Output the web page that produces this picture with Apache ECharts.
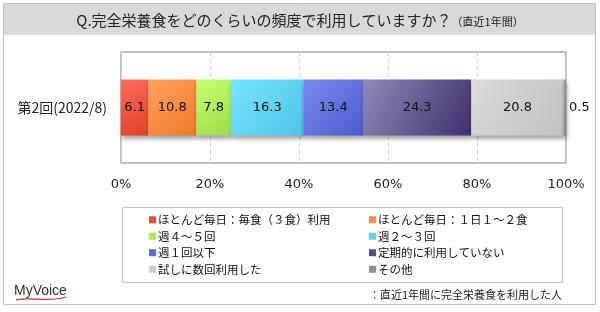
<!DOCTYPE html>
<html>
<head>
<meta charset="utf-8">
<script src="https://cdn.jsdelivr.net/npm/echarts@6/dist/echarts.min.js"></script>
<style>
  html, body { margin: 0; padding: 0; background: #fff; }
  #main { width: 600px; height: 312px; }
</style>
</head>
<body>
<div id="main"></div>
<script>
// データ
var categories = ['第2回(2022/8)'];
var seriesNames = [
  'ほとんど毎日：毎食（３食）利用',
  'ほとんど毎日：１日１～２食',
  '週４～５回',
  '週２～３回',
  '週１回以下',
  '定期的に利用していない',
  '試しに数回利用した',
  'その他'
];
var seriesValues = [6.1, 10.8, 7.8, 16.3, 13.4, 24.3, 20.8, 0.5];
var xTicks = [0, 20, 40, 60, 80, 100];

// 色（グラデーション：明→暗）
var colorFrom = ['#ff6b5e', '#ffa25e', '#c4ff6e', '#76e4ff', '#7a8af2', '#908ab6', '#dadada', '#9a9a9a'];
var colorTo   = ['#e0402a', '#ee7a26', '#9edc4c', '#4ec4e6', '#4a5ccc', '#3e2f6e', '#c2c2c2', '#8a8a8a'];
var legendColor = ['#ee4a3c', '#f78a40', '#aeea5a', '#5ed2f2', '#5a6ed8', '#5c4e8a', '#cccccc', '#909090'];

var myChart = echarts.init(document.getElementById('main'), null, { renderer: 'canvas' });

var series = seriesNames.map(function (name, i) {
  var last = i === seriesNames.length - 1;
  return {
    name: name,
    type: 'bar',
    stack: 'total',
    barWidth: 56,
    data: [seriesValues[i]],
    itemStyle: {
      color: new echarts.graphic.LinearGradient(0, 0, 1, 1, [
        { offset: 0, color: colorFrom[i] },
        { offset: 1, color: colorTo[i] }
      ]),
      shadowColor: 'rgba(0,0,0,0.35)',
      shadowBlur: 4,
      shadowOffsetX: 1,
      shadowOffsetY: 3
    },
    label: {
      show: true,
      position: last ? 'right' : 'inside',
      distance: 3,
      color: '#111',
      fontSize: 13,
      fontFamily: 'DejaVu Sans',
      formatter: function (p) { return p.value.toFixed(1); }
    },
    emphasis: { disabled: true }
  };
});

function legendData(idx) {
  return idx.map(function (i) {
    return { name: seriesNames[i], itemStyle: { color: legendColor[i], shadowBlur: 0, shadowOffsetX: 0, shadowOffsetY: 0 } };
  });
}

var legendCommon = {
  orient: 'vertical',
  top: 209,
  itemGap: 5,
  itemWidth: 7,
  itemHeight: 7,
  icon: 'rect',
  selectedMode: false,
  textStyle: { fontSize: 11.5, color: '#111', fontFamily: 'Noto Sans CJK JP', padding: [0, 0, 0, -3] }
};

var option = {
  animation: false,
  backgroundColor: '#fff',
  title: {
    text: '{a|Q.完全栄養食をどのくらいの頻度で利用していますか？}{b|（直近1年間）}',
    left: 'center',
    top: 8,
    textStyle: {
      fontWeight: 'normal',
      rich: {
        a: { fontSize: 15, color: '#222', fontWeight: 'normal', fontFamily: 'Noto Sans CJK JP' },
        b: { fontSize: 11, color: '#222', fontWeight: 'normal', fontFamily: 'Noto Sans CJK JP', padding: [2, 0, 0, 0] }
      }
    }
  },
  graphic: [
    { type: 'rect', z: -10, shape: { x: 3.5, y: 3.5, width: 592, height: 301 }, style: { fill: '#fff', stroke: '#bfbfbf', lineWidth: 1 } },
    { type: 'rect', z: -9, shape: { x: 4, y: 4, width: 591, height: 31 }, style: { fill: '#d9d9d9' } },
    { type: 'rect', shape: { x: 122.5, y: 207.5, width: 440, height: 75 }, style: { fill: 'none', stroke: '#bfbfbf', lineWidth: 1 } },
    { type: 'text', x: 562, y: 289, style: { text: '：直近1年間に完全栄養食を利用した人', fontSize: 11, fill: '#222', fontFamily: 'Noto Sans CJK JP', align: 'right' } },
    { type: 'text', x: 14, y: 284, style: { text: 'MyVoice', fontSize: 14, fill: '#333', fontFamily: 'Liberation Sans Narrow, Liberation Sans', fontWeight: 'normal' } },
    { type: 'bezierCurve', shape: { x1: 16, y1: 300, cpx1: 30, cpy1: 296, cpx2: 48, cpy2: 303, x2: 66, y2: 297 }, style: { stroke: '#c0392b', lineWidth: 1.2, fill: 'none' } }
  ],
  legend: [
    Object.assign({ left: 144, data: legendData([0, 2, 4, 6]) }, legendCommon),
    Object.assign({ left: 364, data: legendData([1, 3, 5, 7]) }, legendCommon)
  ],
  grid: {
    left: 121,
    right: 34,
    top: 52,
    bottom: 149,
    show: true,
    borderColor: '#808080',
    borderWidth: 1,
    containLabel: false
  },
  xAxis: {
    type: 'value',
    min: xTicks[0],
    max: xTicks[xTicks.length - 1],
    interval: 20,
    axisLine: { show: false },
    axisTick: { show: false },
    splitLine: { show: true, lineStyle: { color: '#cfcfcf', type: [4, 3] } },
    axisLabel: { margin: 15, fontSize: 13, color: '#222', fontFamily: 'DejaVu Sans', formatter: '{value}%' }
  },
  yAxis: {
    type: 'category',
    data: categories,
    axisLine: { show: false },
    axisTick: { show: false },
    axisLabel: { margin: 14, fontSize: 14, color: '#222', fontFamily: 'Noto Sans CJK JP' }
  },
  series: series
};

myChart.setOption(option);
</script>
</body>
</html>
